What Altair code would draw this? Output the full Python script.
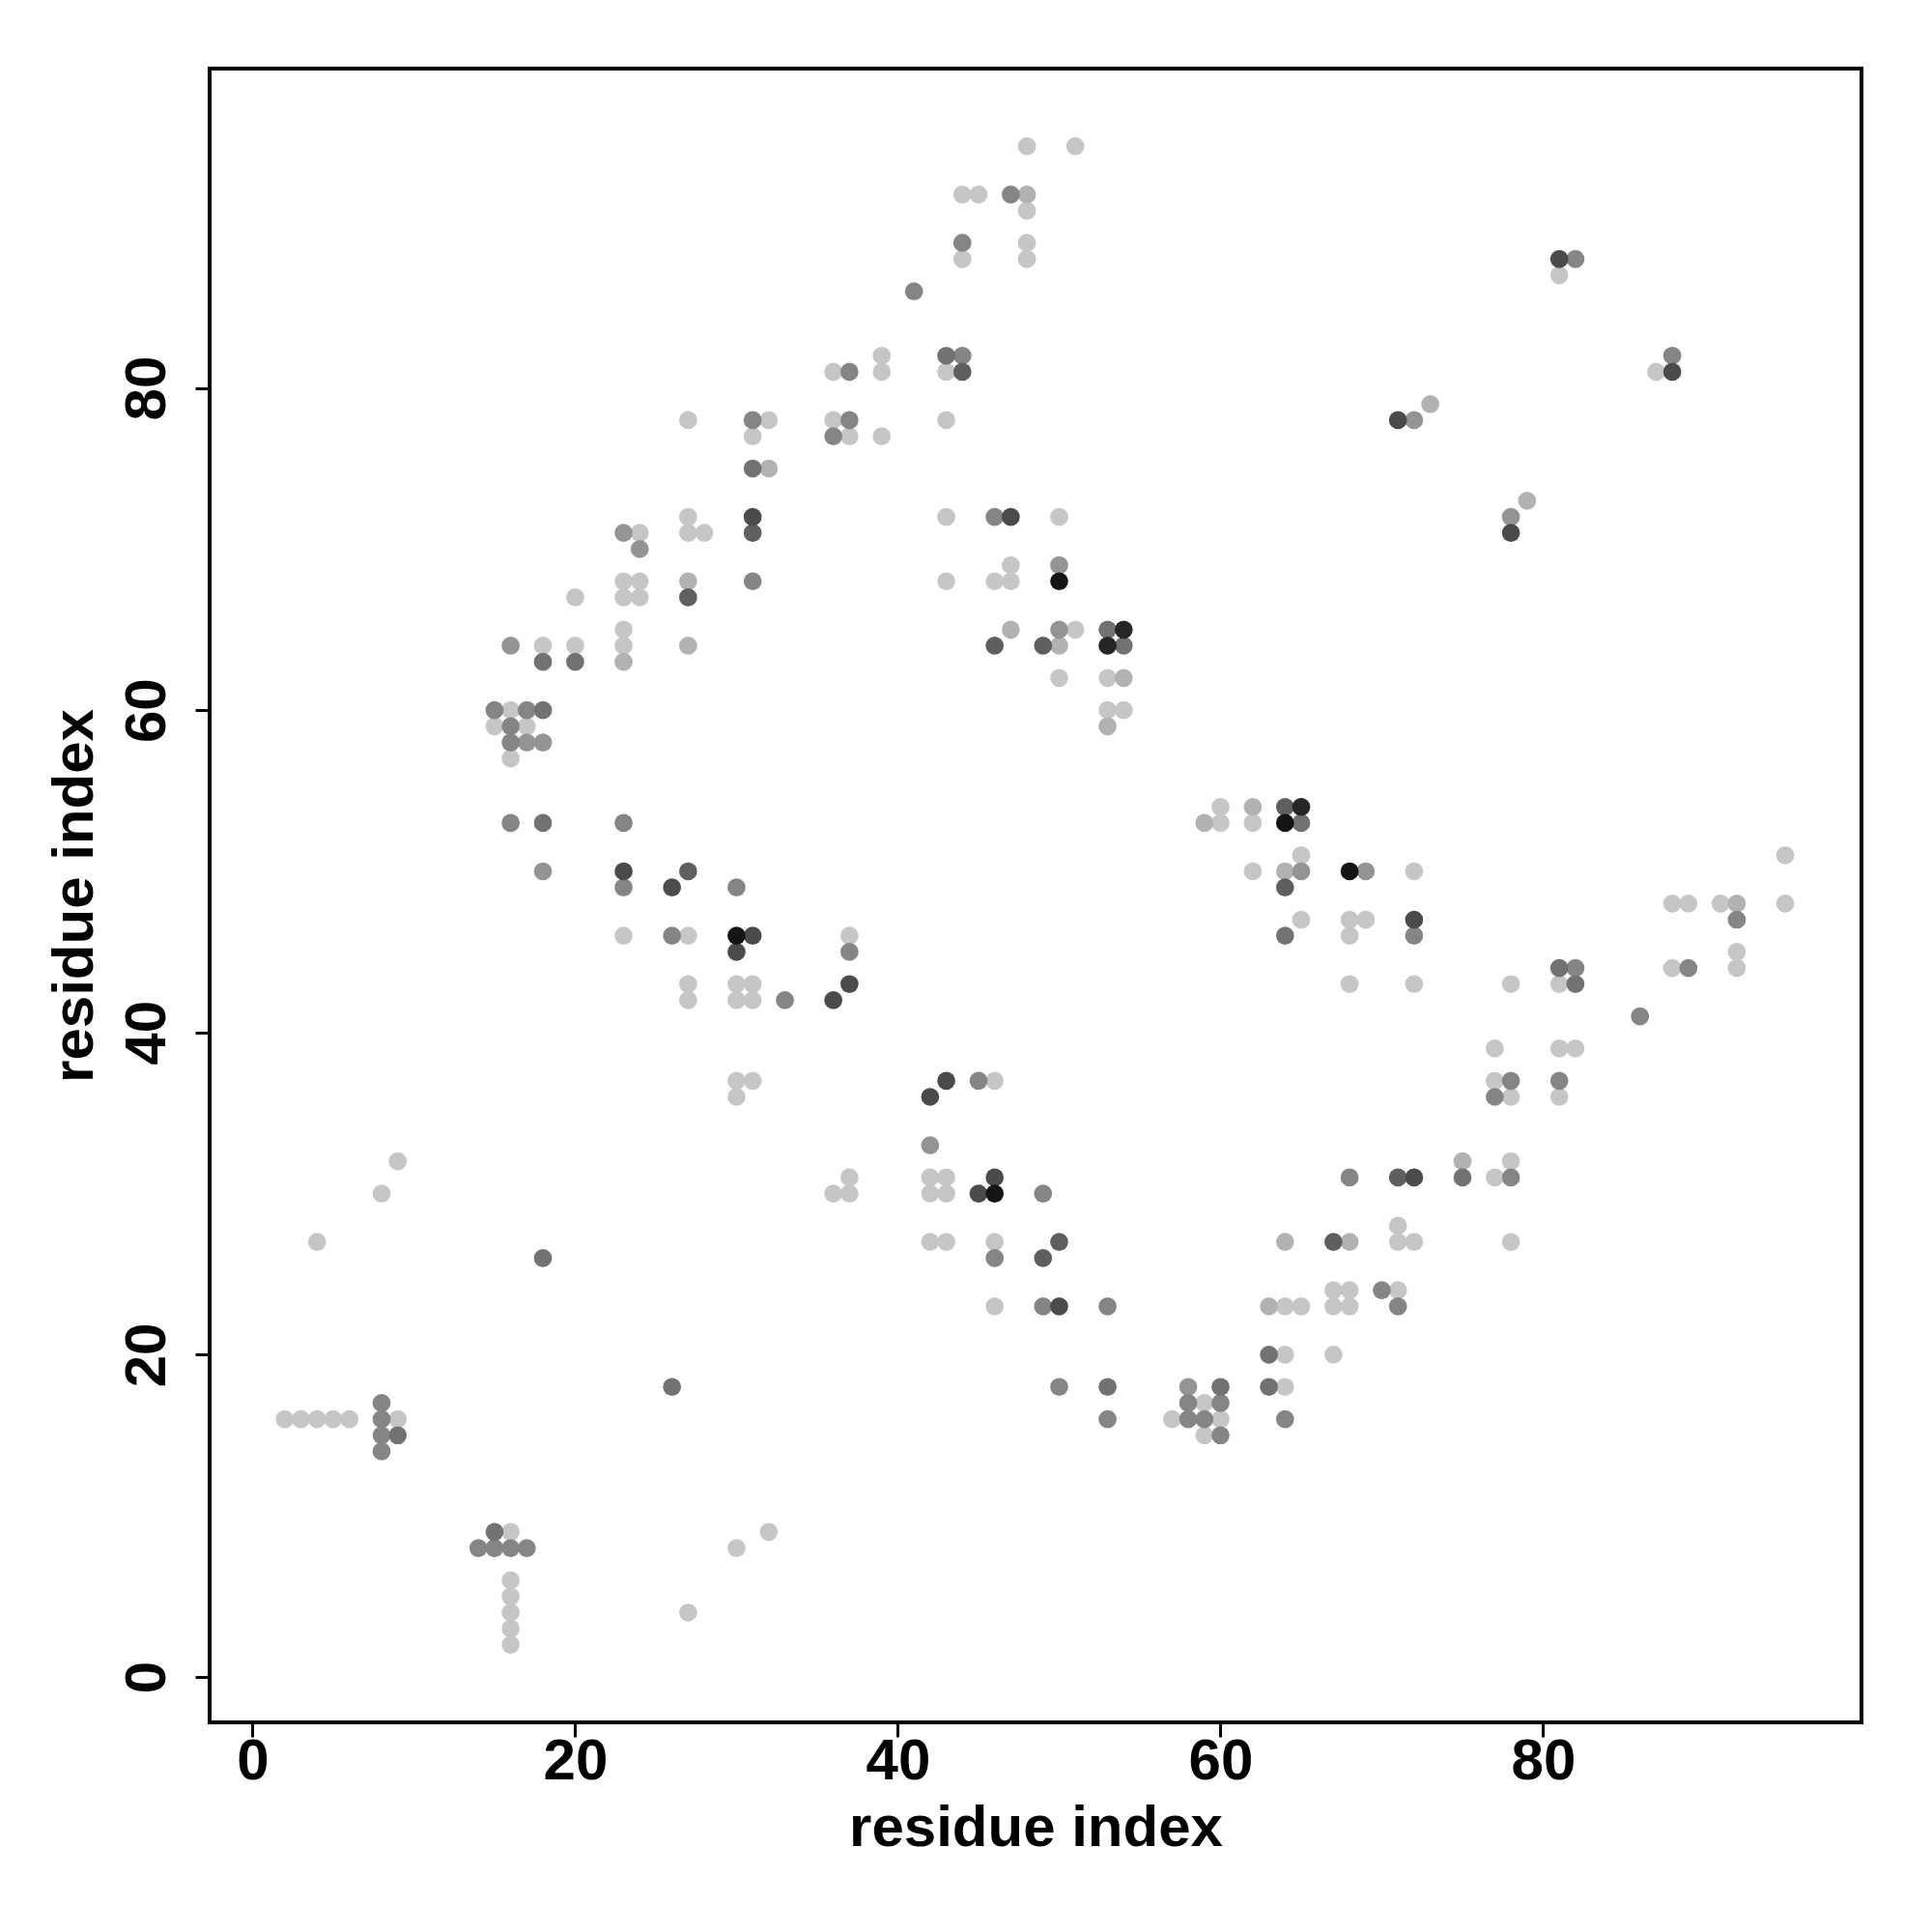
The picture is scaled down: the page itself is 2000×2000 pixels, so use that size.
import altair as alt
import pandas as pd

# residue contact points: (i, j, shade-level)
points = [
    (2,16,"L"),(3,16,"L"),(4,16,"L"),(5,16,"L"),(6,16,"L"),
    (8,17,"M"),(8,16,"M"),(8,15,"M"),(8,14,"M"),(9,16,"L"),(9,15,"D1"),
    (26,18,"D1"),(15,9,"D1"),(16,9,"L"),
    (14,8,"M"),(15,8,"M"),(16,8,"M"),(17,8,"M"),
    (16,6,"L"),(16,5,"L"),(16,4,"L"),(16,3,"L"),(16,2,"L"),
    (30,8,"L"),(27,4,"L"),(32,9,"L"),
    (4,27,"L"),(8,30,"L"),(9,32,"L"),(18,26,"D1"),
    (50,18,"M"),(53,18,"D1"),(53,16,"M"),
    (57,16,"L"),(58,18,"G"),(58,17,"M"),(58,16,"M"),(59,17,"L"),(59,16,"M"),(59,15,"L"),
    (60,18,"D1"),(60,17,"M"),(60,16,"L"),(60,15,"M"),
    (63,20,"D1"),(63,18,"D1"),(64,20,"L"),(64,18,"L"),(64,16,"M"),(67,20,"L"),
    (46,23,"L"),(49,23,"M"),(50,23,"D3"),(53,23,"M"),(63,23,"LG"),(64,23,"L"),(65,23,"L"),
    (67,23,"L"),(68,23,"L"),(71,23,"M"),
    (67,24,"L"),(68,24,"L"),(70,24,"M"),(71,24,"L"),
    (67,27,"D2"),(68,27,"LG"),(71,28,"L"),(71,27,"L"),(72,27,"L"),(78,27,"L"),(64,27,"LG"),
    (68,31,"M"),(71,31,"D2"),(72,31,"D3"),(75,32,"LG"),(75,31,"D1"),(77,31,"L"),(78,32,"L"),(78,31,"M"),
    (77,39,"L"),(81,39,"L"),(82,39,"L"),(77,37,"L"),(78,37,"M"),(77,36,"M"),(78,36,"L"),(81,37,"M"),(81,36,"L"),
    (86,41,"M"),
    (68,43,"L"),(72,43,"L"),(78,43,"L"),(81,44,"D1"),(82,44,"M"),(81,43,"L"),(82,43,"D1"),
    (88,44,"L"),(89,44,"M"),(92,45,"L"),(92,44,"L"),
    (88,48,"L"),(89,48,"L"),(91,48,"L"),(92,48,"LG"),(92,47,"M"),(95,48,"L"),(95,51,"L"),
    (68,47,"L"),(69,47,"L"),(68,46,"L"),(72,47,"D3"),(72,46,"M"),(65,47,"L"),(64,46,"D1"),
    (68,50,"B"),(69,50,"G"),(72,50,"L"),
    (64,49,"D2"),(62,50,"L"),(64,50,"LG"),(65,50,"G"),(65,51,"L"),
    (59,53,"LG"),(60,53,"L"),(62,53,"L"),(64,53,"B"),(65,53,"D1"),
    (60,54,"L"),(62,54,"LG"),(64,54,"D2"),(65,54,"VD"),
    (42,36,"D3"),(43,37,"D3"),(45,37,"M"),(46,37,"L"),(42,33,"G"),
    (37,31,"L"),(42,31,"L"),(43,31,"L"),(46,31,"D3"),
    (36,30,"L"),(37,30,"L"),(42,30,"L"),(43,30,"L"),(45,30,"D3"),(46,30,"B"),(49,30,"M"),
    (42,27,"L"),(43,27,"L"),(46,27,"L"),(50,27,"D2"),(46,26,"M"),(49,26,"D2"),
    (37,46,"L"),(37,45,"M"),(37,43,"D3"),(33,42,"M"),(36,42,"D3"),
    (23,46,"L"),(26,46,"M"),(27,46,"L"),(30,46,"B"),(31,46,"D3"),(30,45,"D3"),
    (27,43,"L"),(30,43,"L"),(31,43,"L"),(27,42,"L"),(30,42,"L"),(31,42,"L"),
    (30,37,"L"),(31,37,"L"),(30,36,"L"),
    (23,50,"D3"),(27,50,"D2"),(18,50,"G"),
    (23,49,"M"),(26,49,"D3"),(30,49,"M"),
    (16,53,"M"),(18,53,"D1"),(23,53,"M"),
    (15,60,"M"),(16,60,"L"),(17,60,"M"),(18,60,"D1"),
    (15,59,"L"),(16,59,"M"),(17,59,"L"),
    (16,58,"M"),(17,58,"G"),(18,58,"G"),(16,57,"L"),
    (16,64,"G"),(18,64,"L"),(20,64,"L"),(23,64,"L"),(27,64,"LG"),
    (18,63,"D1"),(20,63,"D1"),(23,63,"LG"),(23,65,"L"),
    (20,67,"L"),(23,67,"L"),(24,67,"L"),(27,67,"D2"),
    (23,68,"L"),(24,68,"L"),(27,68,"LG"),(31,68,"M"),
    (24,70,"G"),(23,71,"G"),(24,71,"L"),(27,71,"L"),(28,71,"L"),(31,71,"D2"),
    (27,72,"L"),(31,72,"D3"),
    (27,78,"L"),(31,78,"M"),(31,77,"L"),(31,75,"D1"),(32,78,"L"),(32,75,"LG"),
    (36,78,"L"),(37,78,"M"),(43,78,"L"),(36,77,"M"),(37,77,"L"),(39,77,"L"),
    (36,81,"L"),(37,81,"M"),(39,81,"L"),(43,81,"L"),(44,81,"D2"),
    (39,82,"L"),(43,82,"D1"),(44,82,"M"),(41,86,"M"),
    (44,89,"M"),(48,89,"L"),(44,88,"L"),(48,88,"L"),
    (44,92,"L"),(45,92,"L"),(47,92,"M"),(48,92,"LG"),(48,91,"L"),
    (48,95,"L"),(51,95,"L"),
    (43,72,"L"),(46,72,"M"),(47,72,"D3"),(50,72,"L"),
    (47,69,"L"),(50,69,"G"),
    (43,68,"L"),(46,68,"L"),(47,68,"L"),(50,68,"B"),
    (47,65,"LG"),(50,65,"G"),(51,65,"L"),(53,65,"D1"),(54,65,"VD"),
    (46,64,"D2"),(49,64,"D2"),(50,64,"LG"),(53,64,"VD"),(54,64,"D1"),
    (50,62,"L"),(53,62,"L"),(54,62,"LG"),
    (53,60,"L"),(54,60,"L"),(53,59,"LG"),
    (81,88,"D3"),(82,88,"M"),(81,87,"L"),
    (88,82,"M"),(88,81,"D3"),(87,81,"L"),
    (71,78,"D3"),(72,78,"G"),(73,79,"LG"),
    (79,73,"LG"),(78,72,"G"),(78,71,"D3"),
]

levels = ["L", "LG", "G", "M", "D1", "D2", "D3", "VD", "B"]
level_scores = [0.05, 0.14, 0.27, 0.34, 0.43, 0.52, 0.62, 0.82, 0.92]
score_of = dict(zip(levels, level_scores))

res_i = [p[0] for p in points]
res_j = [p[1] for p in points]
score = [score_of[p[2]] for p in points]

df = pd.DataFrame({"i": res_i, "j": res_j, "score": score})

tick_values = [0, 20, 40, 60, 80]
FONT = "Liberation Sans"

chart = alt.Chart(df).mark_circle(size=350, opacity=1).encode(
    x=alt.X("i:Q", title="residue index",
            scale=alt.Scale(domain=[-2.66, 99.73], nice=False, zero=False),
            axis=alt.Axis(values=tick_values, format="d", labelPadding=-4, titlePadding=10)),
    y=alt.Y("j:Q", title="residue index",
            scale=alt.Scale(domain=[-2.82, 99.82], nice=False, zero=False),
            axis=alt.Axis(values=tick_values, format="d", labelAngle=270,
                          labelAlign="center", labelBaseline="bottom",
                          labelPadding=19, titlePadding=14)),
    color=alt.Color("score:Q", scale=alt.Scale(domain=[0, 1], range=["#d2d2d2", "#000000"]),
                    legend=None),
    order=alt.Order("score:Q"),
).properties(
    width=1710, height=1712,
    autosize=alt.AutoSizeParams(type="none"),
    padding={"left": 209, "top": 63, "right": 65, "bottom": 209},
).configure_view(
    stroke="black", strokeWidth=4
).configure_axis(
    domain=False, grid=False,
    tickColor="black", tickWidth=3, tickSize=15,
    labelFont=FONT, labelFontWeight="bold", labelFontSize=60, labelColor="black",
    titleFont=FONT, titleFontWeight="bold", titleFontSize=60, titleColor="black",
)

chart.save("out.html", embed_options={"renderer": "svg", "actions": False})
